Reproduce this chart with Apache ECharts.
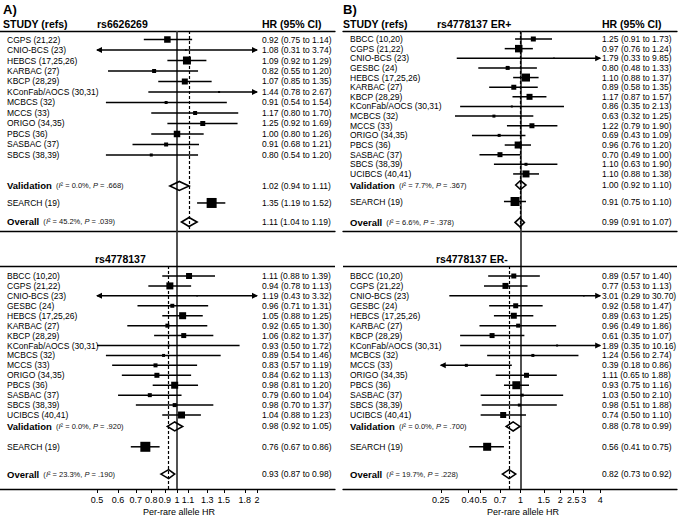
<!DOCTYPE html>
<html><head><meta charset="utf-8">
<script src="https://cdn.jsdelivr.net/npm/echarts@6/dist/echarts.min.js"></script>
<style>html,body{margin:0;padding:0;background:#fff}#c{width:679px;height:518px}</style>
</head><body><div id="c"></div>
<script>
// ---------------- DATA ----------------
const studies12 = ["CGPS (21,22)","CNIO-BCS (23)","HEBCS (17,25,26)","KARBAC (27)","KBCP (28,29)","KConFab/AOCS (30,31)","MCBCS (32)","MCCS (33)","ORIGO (34,35)","PBCS (36)","SASBAC (37)","SBCS (38,39)"];
const studies15 = ["BBCC (10,20)","CGPS (21,22)","CNIO-BCS (23)","GESBC (24)","HEBCS (17,25,26)","KARBAC (27)","KBCP (28,29)","KConFab/AOCS (30,31)","MCBCS (32)","MCCS (33)","ORIGO (34,35)","PBCS (36)","SASBAC (37)","SBCS (38,39)","UCIBCS (40,41)"];

// A) rs6626269
const hrA1 = [0.92,1.08,1.09,0.82,1.07,1.44,0.91,1.17,1.25,1.00,0.91,0.80];
const loA1 = [0.75,0.31,0.92,0.55,0.85,0.78,0.54,0.80,0.92,0.80,0.68,0.54];
const hiA1 = [1.14,3.74,1.29,1.20,1.35,2.67,1.54,1.70,1.69,1.26,1.21,1.20];
const wA1  = [6.5,1.5,8,4,6,2,3,4,5,6.5,4,3];
const valA1 = [1.02,0.94,1.11], searchA1 = [1.35,1.19,1.52], overallA1 = [1.11,1.04,1.19];
const searchWA1 = 10;
const i2A1 = ["0.0%","45.2%"], pA1 = [".668",".039"];

// A) rs4778137
const hrA2 = [1.11,0.94,1.19,0.96,1.05,0.92,1.06,0.93,0.89,0.83,0.84,0.98,0.79,0.98,1.04];
const loA2 = [0.88,0.78,0.43,0.71,0.88,0.65,0.82,0.50,0.54,0.57,0.62,0.81,0.60,0.70,0.88];
const hiA2 = [1.39,1.13,3.32,1.31,1.25,1.30,1.37,1.72,1.46,1.19,1.13,1.20,1.04,1.37,1.23];
const wA2  = [6,7,1.5,4,7,4,5,2,3,4,5,7,4,4,7];
const valA2 = [0.98,0.92,1.05], searchA2 = [0.76,0.67,0.86], overallA2 = [0.93,0.87,0.98];
const searchWA2 = 10;
const i2A2 = ["0.0%","23.3%"], pA2 = [".920",".190"];

// B) rs4778137 ER+
const hrB1 = [1.25,0.97,1.79,0.80,1.10,0.89,1.17,0.86,0.63,1.22,0.69,0.96,0.70,1.10,1.10];
const loB1 = [0.91,0.76,0.33,0.48,0.88,0.58,0.87,0.35,0.32,0.79,0.43,0.76,0.49,0.63,0.88];
const hiB1 = [1.73,1.24,9.85,1.33,1.37,1.35,1.57,2.13,1.25,1.90,1.09,1.20,1.00,1.90,1.38];
const wB1  = [5,7.5,1.5,4,8,5,6,2,3,5,3,7,5,3,7];
const valB1 = [1.00,0.92,1.10], searchB1 = [0.91,0.75,1.10], overallB1 = [0.99,0.91,1.07];
const searchWB1 = 9;
const i2B1 = ["7.7%","6.6%"], pB1 = [".367",".378"];

// B) rs4778137 ER-
const hrB2 = [0.89,0.77,3.01,0.92,0.89,0.96,0.61,1.89,1.24,0.39,1.11,0.93,1.03,0.98,0.74];
const loB2 = [0.57,0.53,0.29,0.58,0.63,0.49,0.35,0.35,0.56,0.18,0.65,0.75,0.50,0.51,0.50];
const hiB2 = [1.40,1.13,30.70,1.47,1.25,1.86,1.07,10.16,2.74,0.86,1.88,1.16,2.10,1.88,1.10];
const wB2  = [5,6,1.5,5,6,4,5,2,3,3,5,8,3,3,6];
const valB2 = [0.88,0.78,0.99], searchB2 = [0.56,0.41,0.75], overallB2 = [0.82,0.73,0.92];
const searchWB2 = 8;
const i2B2 = ["0.0%","19.7%"], pB2 = [".700",".228"];

const ticksA = [0.5,0.6,0.7,0.8,0.9,1,1.1,1.3,1.5,1.8,2];
const ticksB = [0.25,0.4,0.5,0.7,1,1.5,2,2.5,3,4];

// ---------------- LAYOUT ----------------
const FONT = '"Liberation Sans", Arial, Helvetica, sans-serif';
const panelA = {left:0, width:335, xmin:0.21568, xmax:3.9321, clip:[0.5,2], nameX:7, hrX:262};
const panelB = {left:343, width:334, xmin:0.04565, xmax:15.206, clip:[0.25,4], nameX:7, hrX:259};
const topLay = {top:31, height:200};
const botLay = {top:231, height:258};
const posA1 = {yMin:-0.81, yMax:18.24, val:13.95, search:15.57, overall:17.38};
const posB1 = {yMin:-0.83, yMax:19.92, val:15.15, search:16.86, overall:19.03};
const posBot = {yMin:-4.53, yMax:21.45, line:-1.0, val:15.15, search:17.2, overall:19.95};

function buildRows(names, hr, lo, hi, w, val, search, searchW, overall, i2, p, pos) {
  const rows = names.map((n, i) => ({name:n, hr:hr[i], lo:lo[i], hi:hi[i], w:w[i], kind:'study', pos:i}));
  rows.push({name:'Validation', hr:val[0], lo:val[1], hi:val[2], kind:'sum', pos:pos.val, i2:i2[0], p:p[0]});
  rows.push({name:'SEARCH (19)', hr:search[0], lo:search[1], hi:search[2], w:searchW, kind:'study', pos:pos.search});
  rows.push({name:'Overall', hr:overall[0], lo:overall[1], hi:overall[2], kind:'sum', pos:pos.overall, i2:i2[1], p:p[1]});
  return rows;
}

const secA1 = {rows: buildRows(studies12, hrA1, loA1, hiA1, wA1, valA1, searchA1, searchWA1, overallA1, i2A1, pA1, posA1), panel: panelA, pos: posA1, overall: overallA1[0]};
const secA2 = {rows: buildRows(studies15, hrA2, loA2, hiA2, wA2, valA2, searchA2, searchWA2, overallA2, i2A2, pA2, posBot), panel: panelA, pos: posBot, overall: overallA2[0]};
const secB1 = {rows: buildRows(studies15, hrB1, loB1, hiB1, wB1, valB1, searchB1, searchWB1, overallB1, i2B1, pB1, posB1), panel: panelB, pos: posB1, overall: overallB1[0]};
const secB2 = {rows: buildRows(studies15, hrB2, loB2, hiB2, wB2, valB2, searchB2, searchWB2, overallB2, i2B2, pB2, posBot), panel: panelB, pos: posBot, overall: overallB2[0]};

function fmt(v){ return v.toFixed(2); }
function arrow(x, y, dir) {
  return {type:'polygon', shape:{points:[[x + dir*1,y],[x - dir*5,y-3],[x - dir*5,y+3]]}, style:{fill:'#000'}};
}
const TXT = '8.5px ' + FONT;

function forestSeries(sec, xIdx, yIdx) {
  const rows = sec.rows, clip = sec.panel.clip;
  return {
    type:'custom', xAxisIndex:xIdx, yAxisIndex:yIdx, z:5, silent:true,
    encode:{x:0, y:3},
    data: rows.map(r => [r.hr, r.lo, r.hi, r.pos]),
    renderItem: function(params, api) {
      const r = rows[params.dataIndex];
      const cs = params.coordSys;
      const y = api.coord([1, r.pos])[1];
      const a = Math.max(r.lo, clip[0]), b = Math.min(r.hi, clip[1]);
      const x0 = api.coord([a, r.pos])[0], x1 = api.coord([b, r.pos])[0], xc = api.coord([r.hr, r.pos])[0];
      const ch = [];
      let nameText;
      if (r.kind === 'sum') {
        ch.push({type:'polygon', shape:{points:[[x0,y],[xc,y-4.5],[x1,y],[xc,y+4.5]]},
                 style:{fill:'none', stroke:'#000', lineWidth:1.6}});
        nameText = {type:'text', x: cs.x + sec.panel.nameX, y: y,
          style:{text:'{b|' + r.name + '}{s|  (}{i|I}{s|\u00b2 = ' + r.i2 + ', }{i|P}{s| = ' + r.p + ')}',
                 align:'left', verticalAlign:'middle', fill:'#000',
                 rich:{b:{font:'bold 9.5px ' + FONT, fill:'#000'},
                       s:{font:'7.5px ' + FONT, fill:'#111'},
                       i:{font:'italic 7.5px ' + FONT, fill:'#111'}}}};
      } else {
        ch.push({type:'line', shape:{x1:x0, y1:y, x2:x1, y2:y}, style:{stroke:'#000', lineWidth:1.5}});
        if (r.lo < clip[0]) ch.push(arrow(x0, y, -1));
        if (r.hi > clip[1]) ch.push(arrow(x1, y, 1));
        const s = r.w;
        ch.push({type:'rect', shape:{x:xc - s/2, y:y - s/2, width:s, height:s}, style:{fill:'#000'}});
        nameText = {type:'text', x: cs.x + sec.panel.nameX, y: y,
          style:{text:r.name, font:TXT, fill:'#000', align:'left', verticalAlign:'middle'}};
      }
      ch.push(nameText);
      ch.push({type:'text', x: cs.x + sec.panel.hrX, y: y,
        style:{text: fmt(r.hr) + ' (' + fmt(r.lo) + ' to ' + fmt(r.hi) + ')', font:TXT,
               fill:'#000', align:'left', verticalAlign:'middle'}});
      return {type:'group', children: ch};
    }
  };
}

function refLines(sec, xIdx, yIdx, isBottom) {
  const data = [{xAxis: 1, lineStyle:{type:'solid', color:'#333', width:1.7}}];
  if (isBottom) {
    data.push([{coord:[sec.overall, sec.pos.line], lineStyle:{type:[3,2], color:'#000', width:1.2}},
               {coord:[sec.overall, sec.pos.yMax]}]);
    data.push({yAxis: sec.pos.line, lineStyle:{type:'solid', color:'#000', width:1.3}});
  } else {
    data.push({xAxis: sec.overall, lineStyle:{type:[3,2], color:'#000', width:1.2}});
  }
  return {type:'line', xAxisIndex:xIdx, yAxisIndex:yIdx, data:[], z:1, silent:true,
    markLine:{silent:true, symbol:['none','none'], label:{show:false}, animation:false,
              emphasis:{disabled:true}, data:data}};
}

function xAx(gridIndex, panel, position, showLine, ticks) {
  const o = {type:'log', gridIndex:gridIndex, min:panel.xmin, max:panel.xmax, position:position,
    axisLine:{show:showLine, onZero:false, lineStyle:{color:'#000', width:1.3}},
    axisTick:{show:false}, axisLabel:{show:false}, splitLine:{show:false}};
  if (ticks) {
    o.axisTick = {show:true, customValues:ticks, length:4, lineStyle:{color:'#000', width:1}};
    o.axisLabel = {show:true, customValues:ticks, margin:6, fontSize:9, fontFamily:FONT, color:'#000',
                   formatter: v => String(+(+v).toPrecision(3))};
  }
  return o;
}
function yAx(gridIndex, pos) {
  return {type:'value', gridIndex:gridIndex, inverse:true, min:pos.yMin, max:pos.yMax, show:false};
}

const grids = [
  {left:panelA.left, width:panelA.width, top:topLay.top, height:topLay.height},
  {left:panelA.left, width:panelA.width, top:botLay.top, height:botLay.height},
  {left:panelB.left, width:panelB.width, top:topLay.top, height:topLay.height},
  {left:panelB.left, width:panelB.width, top:botLay.top, height:botLay.height}
];
const xAxes = [
  xAx(0, panelA, 'bottom', true), xAx(0, panelA, 'top', true),
  xAx(1, panelA, 'bottom', true, ticksA),
  xAx(2, panelB, 'bottom', true), xAx(2, panelB, 'top', true),
  xAx(3, panelB, 'bottom', true, ticksB)
];
const yAxes = [yAx(0, posA1), yAx(1, posBot), yAx(2, posB1), yAx(3, posBot)];

function gtext(x, y, text, font, align) {
  return {type:'text', x:x, y:y, silent:true,
    style:{text:text, font:font, fill:'#000', align:align || 'left', verticalAlign:'middle'}};
}
const HB = 'bold 10.5px ' + FONT;
const graphics = [
  gtext(3, 9, 'A)', 'bold 13px ' + FONT),
  gtext(3, 24, 'STUDY (refs)', HB),
  gtext(97, 24, 'rs6626269', HB),
  gtext(262, 24, 'HR (95% CI)', HB),
  gtext(95, 259, 'rs4778137', HB),
  gtext(179, 512, 'Per-rare allele HR', '9px ' + FONT, 'center'),
  gtext(343, 9, 'B)', 'bold 13px ' + FONT),
  gtext(343, 24, 'STUDY (refs)', HB),
  gtext(437, 24, 'rs4778137 ER+', HB),
  gtext(602, 24, 'HR (95% CI)', HB),
  gtext(436, 259, 'rs4778137 ER-', HB),
  gtext(523, 512, 'Per-rare allele HR', '9px ' + FONT, 'center')
];

const chart = echarts.init(document.getElementById('c'), null, {renderer:'svg'});
chart.setOption({
  animation:false,
  backgroundColor:'#fff',
  grid: grids,
  xAxis: xAxes,
  yAxis: yAxes,
  graphic: graphics,
  series: [
    refLines(secA1, 0, 0, false), forestSeries(secA1, 0, 0),
    refLines(secA2, 2, 1, true),  forestSeries(secA2, 2, 1),
    refLines(secB1, 3, 2, false), forestSeries(secB1, 3, 2),
    refLines(secB2, 5, 3, true),  forestSeries(secB2, 5, 3)
  ]
});
</script>
</body></html>
